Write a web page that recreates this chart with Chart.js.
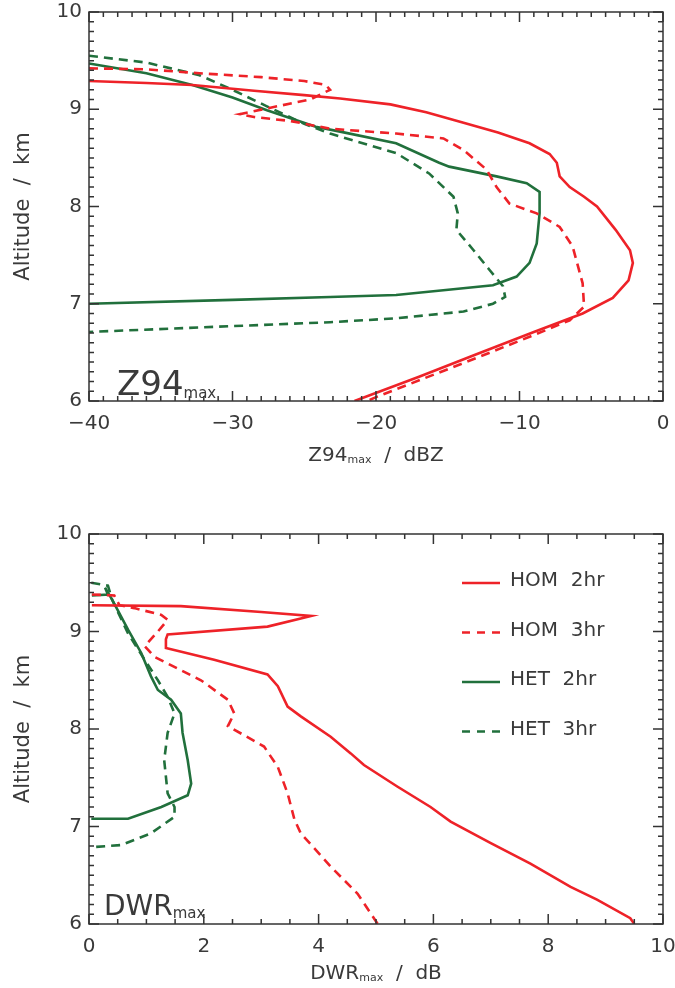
<!DOCTYPE html>
<html>
<head>
<meta charset="utf-8">
<script src="https://cdn.jsdelivr.net/npm/chart.js@4.4.1/dist/chart.umd.min.js"></script>
<style>
  body { margin: 0; background: #fff; }
  #wrap { position: relative; width: 675px; height: 988px; background: #fff; }
  canvas { position: absolute; left: 0; }
</style>
</head>
<body>
<div id="wrap">
  <canvas id="z94" width="675" height="494" style="top:0"></canvas>
  <canvas id="dwr" width="675" height="494" style="top:494px"></canvas>
</div>
<script>
// ---------- tick labels ----------
const altTicks = [6, 7, 8, 9, 10];
const z94Ticks = [-40, -30, -20, -10, 0];
const dwrTicks = [0, 2, 4, 6, 8, 10];
const seriesNames = ['HOM  2hr', 'HOM  3hr', 'HET  2hr', 'HET  3hr'];

// ---------- Z94max panel (dBZ vs km) ----------
const homZ2X   = [-40, -36, -32.8, -28.5, -25, -22.5, -19, -16.5, -13.9, -11.5, -9.3, -7.9, -7.4, -7.2, -6.5, -5.5, -4.6, -3.3, -2.3, -2.1, -2.4, -3.5, -5.6, -9, -13, -17, -21.5];
const homZ2Alt = [9.29, 9.27, 9.25, 9.19, 9.145, 9.11, 9.05, 8.97, 8.86, 8.76, 8.65, 8.54, 8.45, 8.31, 8.2, 8.1, 8.0, 7.76, 7.55, 7.42, 7.24, 7.06, 6.9, 6.71, 6.48, 6.25, 6.0];

const homZ3X   = [-40, -36, -32.3, -28, -25, -23.5, -23.2, -24.6, -26.9, -29.5, -28.5, -26, -23.2, -18.6, -15.3, -13.9, -12.3, -11.6, -10.7, -8.8, -7.2, -6.3, -5.6, -5.5, -6.5, -9.3, -13.9, -20, -20.6];
const homZ3Alt = [9.42, 9.41, 9.37, 9.33, 9.29, 9.25, 9.2, 9.1, 9.03, 8.95, 8.92, 8.88, 8.8, 8.75, 8.7, 8.58, 8.38, 8.2, 8.03, 7.93, 7.79, 7.59, 7.21, 6.97, 6.83, 6.66, 6.39, 6.04, 6.0];

const hetZ2X   = [-40, -36, -32.8, -30, -27.6, -24.2, -22.5, -18.6, -15.6, -14.9, -11.6, -9.5, -8.6, -8.6, -8.8, -9.3, -10.2, -11.85, -18.6, -23.2, -30, -40];
const hetZ2Alt = [9.47, 9.37, 9.25, 9.12, 8.99, 8.82, 8.77, 8.65, 8.45, 8.41, 8.31, 8.24, 8.15, 7.93, 7.62, 7.42, 7.28, 7.19, 7.09, 7.07, 7.04, 7.0];

const hetZ3X   = [-40, -36, -32.3, -30, -27.6, -25, -23.2, -18.6, -16.3, -14.6, -14.3, -14.4, -13.2, -12.1, -11.15, -11.0, -11.85, -13.9, -18.6, -23.2, -30, -40];
const hetZ3Alt = [9.55, 9.48, 9.35, 9.2, 9.03, 8.85, 8.75, 8.55, 8.34, 8.1, 7.93, 7.76, 7.55, 7.35, 7.18, 7.07, 7.0, 6.92, 6.85, 6.81, 6.77, 6.71];

// ---------- DWRmax panel (dB vs km) ----------
const homD2X   = [0.05, 1.6, 3.0, 3.87, 3.11, 1.37, 1.34, 1.34, 2.18, 3.11, 3.29, 3.46, 3.69, 4.21, 4.56, 4.79, 5.37, 5.95, 6.3, 7.0, 7.69, 8.39, 8.85, 9.43, 9.5];
const homD2Alt = [9.27, 9.26, 9.2, 9.16, 9.05, 8.97, 8.92, 8.83, 8.71, 8.56, 8.44, 8.23, 8.13, 7.92, 7.75, 7.63, 7.41, 7.2, 7.05, 6.83, 6.62, 6.38, 6.25, 6.06, 6.0];

const homD3X   = [0.05, 0.44, 0.53, 0.79, 1.26, 1.37, 1.2, 0.97, 1.14, 1.95, 2.42, 2.53, 2.42, 3.05, 3.29, 3.46, 3.58, 3.69, 4.21, 4.68, 5.03];
const homD3Alt = [9.38, 9.37, 9.27, 9.24, 9.17, 9.12, 9.0, 8.85, 8.74, 8.5, 8.3, 8.16, 8.03, 7.82, 7.61, 7.34, 7.07, 6.93, 6.59, 6.31, 6.0];

const hetD2X   = [0.05, 0.33, 0.28, 0.4, 0.5, 0.68, 0.91, 1.08, 1.2, 1.43, 1.6, 1.63, 1.72, 1.78, 1.72, 1.26, 0.68, 0.04];
const hetD2Alt = [9.37, 9.38, 9.45, 9.33, 9.22, 9.02, 8.78, 8.54, 8.4, 8.3, 8.16, 7.96, 7.68, 7.44, 7.32, 7.2, 7.08, 7.08];

const hetD3X   = [0.04, 0.33, 0.4, 0.68, 0.97, 1.2, 1.37, 1.49, 1.37, 1.31, 1.37, 1.49, 1.49, 1.08, 0.56, 0.1];
const hetD3Alt = [9.5, 9.47, 9.33, 8.98, 8.71, 8.5, 8.33, 8.16, 7.96, 7.68, 7.34, 7.2, 7.1, 6.93, 6.81, 6.79];

const RED = '#ee2228';
const GREEN = '#21703c';
const FONT = "'DejaVu Sans', sans-serif";
const INK = '#3a3a3a';

function pts(xs, ys){
  return xs.map((v, i) => ({ x: v, y: ys[i] }));
}

function line(label, xs, ys, color, dashed){
  return {
    label: label,
    data: pts(xs, ys),
    showLine: true,
    borderColor: color,
    backgroundColor: color,
    borderWidth: 2.6,
    borderDash: dashed ? [9, 6] : [],
    pointRadius: 0,
    tension: 0,
    fill: false
  };
}

// frame, inward ticks, titles with subscripts, legend
const decorPlugin = {
  id: 'decor',
  afterDatasetsDraw(chart, args, o){
    const {ctx, chartArea: a, scales: {x, y}} = chart;
    ctx.save();
    ctx.strokeStyle = '#333';
    ctx.lineWidth = 1.5;
    ctx.setLineDash([]);
    ctx.strokeRect(a.left, a.top, a.right - a.left, a.bottom - a.top);
    ctx.beginPath();
    let n = Math.round((x.max - x.min) / o.minorX);
    for (let i = 0; i <= n; i++){
      const v = x.min + i * o.minorX;
      const r = v / o.majorX;
      const len = Math.abs(r - Math.round(r)) < 1e-6 ? 10 : 5;
      const px = x.getPixelForValue(v);
      ctx.moveTo(px, a.bottom); ctx.lineTo(px, a.bottom - len);
      ctx.moveTo(px, a.top);    ctx.lineTo(px, a.top + len);
    }
    n = Math.round((y.max - y.min) / o.minorY);
    for (let i = 0; i <= n; i++){
      const v = y.min + i * o.minorY;
      const r = v / o.majorY;
      const len = Math.abs(r - Math.round(r)) < 1e-6 ? 10 : 5;
      const py = y.getPixelForValue(v);
      ctx.moveTo(a.left, py);  ctx.lineTo(a.left + len, py);
      ctx.moveTo(a.right, py); ctx.lineTo(a.right - len, py);
    }
    ctx.stroke();
    ctx.restore();
  },
  afterDraw(chart, args, o){
    const {ctx, chartArea: a} = chart;
    ctx.save();
    ctx.fillStyle = INK;
    ctx.textBaseline = 'alphabetic';
    ctx.textAlign = 'left';

    const drawParts = (parts, x0, base, center) => {
      let w = 0;
      parts.forEach(p => { ctx.font = p.size + 'px ' + FONT; w += ctx.measureText(p.t).width; });
      let cx = center ? x0 - w / 2 : x0;
      parts.forEach(p => {
        ctx.font = p.size + 'px ' + FONT;
        ctx.fillText(p.t, cx, base + (p.dy || 0));
        cx += ctx.measureText(p.t).width;
      });
    };

    drawParts(o.xTitle, (a.left + a.right) / 2, a.bottom + o.xTitleGap, true);
    drawParts(o.panel, o.panelX, o.panelY, false);

    if (o.legend){
      chart.data.datasets.forEach((ds, i) => {
        const ly = o.legendY + i * o.legendStep;
        ctx.strokeStyle = ds.borderColor;
        ctx.lineWidth = 2.6;
        ctx.setLineDash(ds.borderDash.length ? [8, 7] : []);
        ctx.beginPath();
        ctx.moveTo(o.legendX, ly);
        ctx.lineTo(o.legendX + 38, ly);
        ctx.stroke();
        ctx.setLineDash([]);
        ctx.font = '20px ' + FONT;
        ctx.fillStyle = INK;
        ctx.fillText(ds.label, o.legendX + 48, ly + 3);
      });
    }
    ctx.restore();
  }
};

function fmt(v){
  return v < 0 ? '\u2212' + Math.abs(v) : String(v);
}

function makeChart(id, datasets, xTicks, bottomH, topPad, decor){
  const ctx = document.getElementById(id).getContext('2d');
  return new Chart(ctx, {
    type: 'scatter',
    data: { datasets: datasets },
    plugins: [decorPlugin],
    options: {
      responsive: false,
      animation: false,
      layout: { padding: { left: 0, right: 12, top: topPad, bottom: 0 } },
      plugins: {
        legend: { display: false },
        tooltip: { enabled: false },
        decor: decor
      },
      scales: {
        x: {
          type: 'linear',
          min: xTicks[0],
          max: xTicks[xTicks.length - 1],
          afterBuildTicks: s => { s.ticks = xTicks.map(v => ({ value: v })); },
          afterFit: s => { s.height = bottomH; s.paddingLeft = 0; s.paddingRight = 0; },
          grid: { display: false, drawTicks: false },
          border: { display: false },
          ticks: {
            autoSkip: false, maxRotation: 0, padding: 11,
            color: INK, font: { family: FONT, size: 20 },
            callback: v => fmt(v)
          }
        },
        y: {
          type: 'linear',
          min: 6, max: 10,
          afterBuildTicks: s => { s.ticks = altTicks.map(v => ({ value: v })); },
          afterFit: s => { s.width = 89; s.paddingTop = 0; s.paddingBottom = 0; },
          grid: { display: false, drawTicks: false },
          border: { display: false },
          ticks: {
            autoSkip: false, padding: 7,
            color: INK, font: { family: FONT, size: 20 },
            callback: v => fmt(v)
          },
          title: {
            display: true,
            text: 'Altitude  /  km',
            color: INK,
            font: { family: FONT, size: 21 },
            padding: { top: 11, bottom: 0 }
          }
        }
      }
    }
  });
}

makeChart('z94', [
  line(seriesNames[0], homZ2X, homZ2Alt, RED, false),
  line(seriesNames[1], homZ3X, homZ3Alt, RED, true),
  line(seriesNames[2], hetZ2X, hetZ2Alt, GREEN, false),
  line(seriesNames[3], hetZ3X, hetZ3Alt, GREEN, true)
], z94Ticks, 93, 12, {
  minorX: 1, majorX: 10, minorY: 0.1, majorY: 1,
  xTitle: [{ t: 'Z94', size: 20 }, { t: 'max', size: 11, dy: 2 }, { t: '  /  dBZ', size: 20 }],
  xTitleGap: 60,
  panel: [{ t: 'Z94', size: 34 }, { t: 'max', size: 15, dy: 3 }],
  panelX: 117, panelY: 395,
  legend: false
});

makeChart('dwr', [
  line(seriesNames[0], homD2X, homD2Alt, RED, false),
  line(seriesNames[1], homD3X, homD3Alt, RED, true),
  line(seriesNames[2], hetD2X, hetD2Alt, GREEN, false),
  line(seriesNames[3], hetD3X, hetD3Alt, GREEN, true)
], dwrTicks, 64, 40, {
  minorX: 0.5, majorX: 2, minorY: 0.1, majorY: 1,
  xTitle: [{ t: 'DWR', size: 20 }, { t: 'max', size: 11, dy: 2 }, { t: '  /  dB', size: 20 }],
  xTitleGap: 55,
  panel: [{ t: 'DWR', size: 28 }, { t: 'max', size: 15, dy: 3 }],
  panelX: 104, panelY: 421,
  legend: true, legendX: 462, legendY: 89, legendStep: 49.5
});
</script>
</body>
</html>
